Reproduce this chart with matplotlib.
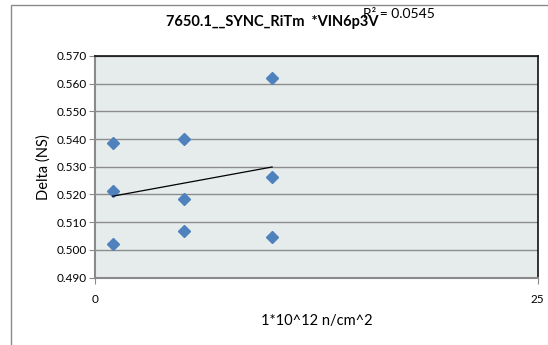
import numpy as np
import matplotlib
matplotlib.use("Agg")
import matplotlib.pyplot as plt
from matplotlib.patches import Rectangle

plt.rcParams['font.family'] = ['Lato', 'DejaVu Sans']

# Data
fluence = [1, 1, 1, 5, 5, 5, 10, 10, 10]
delta = [0.5385, 0.5213, 0.5022, 0.5400, 0.5183, 0.5070, 0.5620, 0.5263, 0.5045]
title = "7650.1__SYNC_RiTm  *VIN6p3V"
r2_text = "R² = 0.0545"
xlabel = "1*10^12 n/cm^2"
ylabel = "Delta (NS)"
yticks = [0.490, 0.500, 0.510, 0.520, 0.530, 0.540, 0.550, 0.560, 0.570]
xticks = [0, 25]

W, H = 548, 345
fig = plt.figure(figsize=(W / 100, H / 100), dpi=100)

# outer chart frame
fig.add_artist(Rectangle((10.5 / W, -0.1), 1.2, 1 - 4.5 / H + 0.1, transform=fig.transFigure,
                         fill=False, edgecolor='#8a8a8a', linewidth=1.0))

ax = fig.add_axes([95 / W, 1 - 277.7 / H, (537.7 - 95) / W, (277.7 - 55.8) / H])
ax.set_facecolor('#E6ECEC')

ax.set_xlim(0, 25)
ax.set_ylim(0.490, 0.570)
ax.set_yticks(yticks)
ax.set_yticklabels([f"{v:.3f}" for v in yticks])
ax.set_xticks(xticks)
ax.set_xticklabels([str(v) for v in xticks])

ax.grid(axis='y', color='#8c8c8c', linewidth=1.0)
ax.set_axisbelow(True)

for s in ['left', 'bottom']:
    ax.spines[s].set_color('#8a8a8a')
    ax.spines[s].set_linewidth(1.5)
for s in ['top', 'right']:
    ax.spines[s].set_color('#111111')
    ax.spines[s].set_linewidth(1.2)

ax.tick_params(axis='y', direction='out', length=4, color='#8a8a8a', labelsize=8.5, pad=2)
ax.tick_params(axis='x', direction='out', length=4, color='#8a8a8a', labelsize=8.5, pad=8)

# data points
ax.plot(fluence, delta, linestyle='none', marker='D', markersize=6.3,
        color='#4F81BD', markeredgecolor='#4F81BD', zorder=3)

# linear trendline
coef = np.polyfit(fluence, delta, 1)
xs = np.array([min(fluence), max(fluence)])
ax.plot(xs, np.polyval(coef, xs), color='black', linewidth=0.9, zorder=4)

ax.set_xlabel(xlabel, fontsize=10.5, labelpad=6)
ax.set_ylabel(ylabel, fontsize=10.5, labelpad=4)

fig.text(272.5 / W, 1 - 22 / H, title, fontsize=10.5, fontweight='bold', ha='center', va='center')
fig.text(363 / W, 1 - 14 / H, r2_text, fontsize=10, ha='left', va='center')

fig.savefig('out.png', dpi=100)
